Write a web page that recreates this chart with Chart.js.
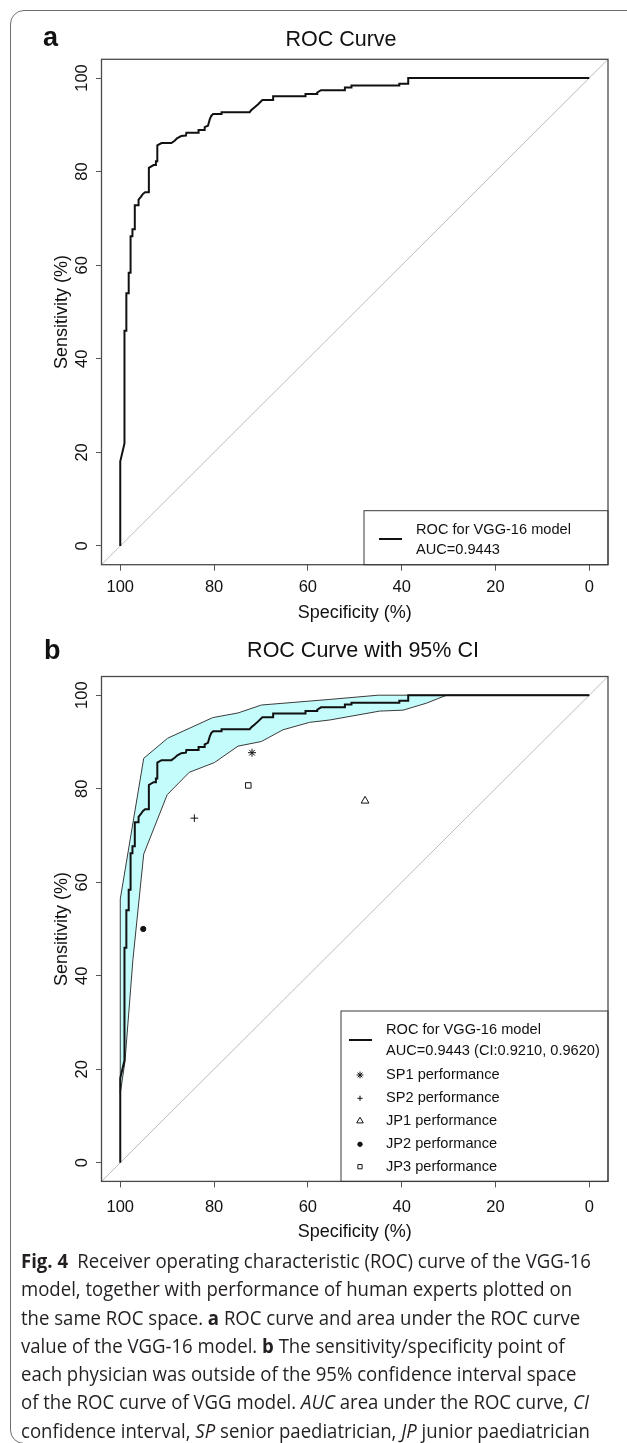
<!DOCTYPE html>
<html lang="en">
<head>
<meta charset="UTF-8">
<title>Fig. 4 - ROC curves</title>
<script src="https://cdn.jsdelivr.net/npm/chart.js"></script>
<style>
  html, body { margin: 0; padding: 0; background: #fff; }
  body { position: relative; width: 627px; height: 1443px; overflow: hidden; font-family: "Liberation Sans", Arial, sans-serif; color: #111; }
  .frame { position: absolute; left: 10px; top: 10px; width: 700px; height: 1434px; border: 1.3px solid #6e6e6e; border-radius: 14px; box-sizing: border-box; }
  canvas { position: absolute; left: 0; }
  #chartA { top: 0; }
  #chartB { top: 632px; }
  .letter { position: absolute; font-weight: bold; font-size: 27px; line-height: 1; }
  .title { position: absolute; font-size: 21.5px; line-height: 1; white-space: nowrap; transform: translateX(-50%); }
  .caption { position: absolute; left: 21px; top: 1247px; font-family: "Open Sans", "Noto Sans", sans-serif; font-size: 19.5px; color: #231f20; transform-origin: 0 0; }
  .caption .ln { height: 28.3px; line-height: 28.3px; white-space: nowrap; }
  .caption b { font-weight: 700; }
</style>
</head>
<body>
<div class="frame"></div>

<canvas id="chartA" width="627" height="632"></canvas>
<canvas id="chartB" width="627" height="620"></canvas>

<div class="letter" style="left:43px; top:24px;">a</div>
<div class="title" style="left:341px; top:29px;">ROC Curve</div>
<div class="letter" style="left:44px; top:637px;">b</div>
<div class="title" style="left:363px; top:640px;">ROC Curve with 95% CI</div>

<div class="caption" id="caption">
  <div class="ln"><span><b>Fig. 4</b>&ensp;Receiver operating characteristic (ROC) curve of the VGG-16</span></div>
  <div class="ln"><span>model, together with performance of human experts plotted on</span></div>
  <div class="ln"><span>the same ROC space. <b>a</b> ROC curve and area under the ROC curve</span></div>
  <div class="ln"><span>value of the VGG-16 model. <b>b</b> The sensitivity/specificity point of</span></div>
  <div class="ln"><span>each physician was outside of the 95% confidence interval space</span></div>
  <div class="ln"><span>of the ROC curve of VGG model. <i>AUC</i> area under the ROC curve, <i>CI</i></span></div>
  <div class="ln"><span>confidence interval, <i>SP</i> senior paediatrician, <i>JP</i> junior paediatrician</span></div>
</div>

<script>
// values (specificity %, sensitivity %)
const xTickValues = [100, 80, 60, 40, 20, 0];
const yTickValues = [0, 20, 40, 60, 80, 100];

const rocSpec = [100, 100, 99.1, 99.1, 98.7, 98.7, 98.2, 98.2, 97.8, 97.8, 97.4, 97.4, 96.9, 96.9, 96.1, 96.1,
  95.6, 95.2, 94.7, 93.9, 93.9, 92.9, 92.4, 92.4, 92.1, 92.1, 91.2, 89.1, 88.4, 87.9, 87.0, 86.0, 85.9, 83.3,
  83.3, 82.0, 82.0, 81.3, 80.9, 80.6, 80.2, 78.4, 78.4, 72.4, 72.1, 71.4, 70.6, 69.7, 67.4, 67.4, 60.5, 60.5,
  58.0, 58.0, 57.2, 52.1, 52.1, 50.7, 50.7, 40.5, 40.5, 38.6, 38.6, 0];
const rocSens = [0, 18.1, 21.9, 46.0, 46.0, 54.0, 54.0, 58.4, 58.4, 66.2, 66.2, 67.7, 67.7, 72.8, 72.8, 74.0,
  74.6, 75.2, 75.6, 75.6, 80.8, 81.4, 81.4, 82.2, 82.2, 85.6, 86.1, 86.1, 86.6, 87.1, 87.6, 87.7, 88.3, 88.3,
  88.9, 88.9, 89.5, 89.8, 91.2, 91.9, 92.3, 92.3, 92.7, 92.7, 93.1, 93.7, 94.4, 95.3, 95.3, 96.1, 96.1, 96.6,
  96.6, 96.9, 97.4, 97.4, 98.0, 98.0, 98.4, 98.4, 98.8, 98.8, 100, 100];

const ciUpperSpec = [100, 100, 95.0, 89.9, 80.3, 74.9, 69.9, 55.3, 45.0, 0];
const ciUpperSens = [14.8, 56.4, 86.5, 90.8, 95.2, 96.2, 97.9, 99.1, 100, 100];
const ciLowerSpec = [100, 99.0, 97.3, 95.0, 90.0, 85.3, 79.9, 74.9, 69.9, 65.3, 59.6, 55.3, 44.7, 39.7, 34.7, 30.4, 0];
const ciLowerSens = [14.8, 21.6, 43.4, 66.0, 78.7, 83.5, 85.6, 89.1, 90.1, 92.6, 94.2, 94.7, 96.6, 96.8, 98.3, 100, 100];

const diagSpec = [104, -4];
const diagSens = [-4, 104];

const experts = ['SP1', 'SP2', 'JP1', 'JP2', 'JP3'];
const expertSpec = [71.9, 84.2, 47.8, 95.1, 72.7];
const expertSens = [87.7, 73.7, 77.4, 50.0, 80.7];
const expertMarks = ['star', 'cross', 'triangle', 'circle', 'rect'];

const rocLabel = 'ROC for VGG-16 model';
const aucLabelA = 'AUC=0.9443';
const aucLabelB = 'AUC=0.9443 (CI:0.9210, 0.9620)';

const FONT = '"Liberation Sans", Arial, Helvetica, sans-serif';
const INK = '#111';

function pts(xs, ys) { return xs.map((x, i) => ({ x: x, y: ys[i] })); }

// R style box round the plot region
const plotBox = {
  id: 'plotBox',
  afterDatasetsDraw(chart) {
    const { ctx, chartArea: a } = chart;
    ctx.save();
    ctx.strokeStyle = '#4a4a4a';
    ctx.lineWidth = 1.3;
    ctx.strokeRect(a.left, a.top, a.right - a.left, a.bottom - a.top);
    ctx.restore();
  }
};

function drawMark(ctx, style, r, x, y) {
  if (Chart.helpers && Chart.helpers.drawPoint) {
    Chart.helpers.drawPoint(ctx, { pointStyle: style, radius: r, borderWidth: 1, rotation: 0 }, x, y);
  }
}

// legend drawn in the bottom right corner of the plot, like R's legend()
const boxLegend = {
  id: 'boxLegend',
  afterDraw(chart, args, o) {
    if (!o.rows) return;
    const { ctx, chartArea: a } = chart;
    const left = a.right - o.width, top = a.bottom - o.height;
    ctx.save();
    ctx.strokeStyle = '#3a3a3a';
    ctx.lineWidth = 1;
    ctx.strokeRect(left, top, o.width, o.height);
    ctx.font = '14.6px ' + FONT;
    ctx.textBaseline = 'middle';
    ctx.textAlign = 'left';
    o.rows.forEach(r => {
      const ds = chart.data.datasets[r.dataset];
      if (r.kind === 'line') {
        ctx.strokeStyle = ds.borderColor;
        ctx.lineWidth = ds.borderWidth;
        ctx.beginPath();
        ctx.moveTo(left + o.lineX[0], top + r.y);
        ctx.lineTo(left + o.lineX[1], top + r.y);
        ctx.stroke();
      } else {
        ctx.strokeStyle = ds.pointBorderColor;
        ctx.fillStyle = ds.pointBackgroundColor;
        ctx.lineWidth = 1;
        drawMark(ctx, ds.pointStyle, r.r, left + o.symX, top + r.y);
      }
      ctx.fillStyle = INK;
      r.texts.forEach((t, i) => ctx.fillText(t, left + o.textX, top + r.ty[i]));
    });
    ctx.restore();
  }
};

function scales(s) {
  return {
    x: {
      type: 'linear', reverse: true, min: -4, max: 104,
      afterBuildTicks: sc => { sc.ticks = xTickValues.map(v => ({ value: v })); },
      afterFit: sc => { sc.height = s.xHeight; },
      grid: { display: true, drawOnChartArea: false, drawTicks: true, tickLength: 6, color: '#555', lineWidth: 1 },
      border: { display: false },
      ticks: { autoSkip: false, maxRotation: 0, padding: s.xTickPad, color: INK, font: { family: FONT, size: 16.5 } },
      title: { display: true, text: 'Specificity (%)', color: INK, font: { family: FONT, size: 18 }, padding: { top: 0, bottom: s.xTitlePad } }
    },
    y: {
      type: 'linear', min: -4, max: 104,
      afterBuildTicks: sc => { sc.ticks = yTickValues.map(v => ({ value: v })); },
      afterFit: sc => { sc.width = 101.5; },
      grid: { display: true, drawOnChartArea: false, drawTicks: true, tickLength: 5.5, color: '#555', lineWidth: 1 },
      border: { display: false },
      ticks: { autoSkip: false, minRotation: 90, maxRotation: 90, crossAlign: 'center', padding: 0, color: INK, font: { family: FONT, size: 16.5 } },
      title: { display: true, text: 'Sensitivity (%)', color: INK, font: { family: FONT, size: 18 }, padding: { top: 51, bottom: 0 } }
    }
  };
}

const rocDataset = {
  label: rocLabel, data: pts(rocSpec, rocSens),
  borderColor: '#111', borderWidth: 2, pointRadius: 0, tension: 0, fill: false
};
const diagDataset = {
  label: 'diagonal', data: pts(diagSpec, diagSens),
  borderColor: '#bdbdbd', borderWidth: 1, pointRadius: 0, fill: false
};

new Chart(document.getElementById('chartA'), {
  type: 'line',
  data: { datasets: [rocDataset, diagDataset] },
  options: {
    responsive: false, animation: false, events: [],
    layout: { padding: { top: 59.3, right: 19, left: 0, bottom: 0 } },
    scales: scales({ xHeight: 67.3, xTickPad: 7, xTitlePad: 8 }),
    plugins: {
      legend: { display: false }, tooltip: { enabled: false },
      boxLegend: {
        width: 244, height: 54, lineX: [15, 38], textX: 52,
        rows: [{ kind: 'line', dataset: 0, y: 28.3, texts: [rocLabel, aucLabelA], ty: [19.3, 39.3] }]
      }
    }
  },
  plugins: [plotBox, boxLegend]
});

const expertDatasets = experts.map((name, i) => ({
  label: name + ' performance',
  data: [{ x: expertSpec[i], y: expertSens[i] }],
  showLine: false,
  pointStyle: expertMarks[i],
  pointRadius: [4.0, 3.8, 4.5, 2.6, 3.9][i],
  pointBorderWidth: 1,
  pointBorderColor: '#111',
  pointBackgroundColor: expertMarks[i] === 'circle' ? '#111' : 'rgba(0,0,0,0)'
}));

const ciDataset = {
  label: '95% CI',
  data: pts(ciUpperSpec.concat(ciLowerSpec.slice().reverse()), ciUpperSens.concat(ciLowerSens.slice().reverse())),
  borderColor: '#3a3a3a', borderWidth: 1, backgroundColor: '#c4fbfb', pointRadius: 0, tension: 0, fill: 'shape'
};

new Chart(document.getElementById('chartB'), {
  type: 'line',
  data: { datasets: expertDatasets.concat([Object.assign({}, rocDataset), ciDataset, Object.assign({}, diagDataset)]) },
  options: {
    responsive: false, animation: false, events: [],
    layout: { padding: { top: 44.5, right: 19, left: 0, bottom: 0 } },
    scales: scales({ xHeight: 70.6, xTickPad: 10, xTitlePad: 9 }),
    plugins: {
      legend: { display: false }, tooltip: { enabled: false },
      boxLegend: {
        width: 267, height: 170.4, lineX: [8, 31], textX: 45, symX: 19,
        rows: [
          { kind: 'line', dataset: 5, y: 29, texts: [rocLabel, aucLabelB], ty: [19, 39.7] },
          { kind: 'point', dataset: 0, r: 3.4, y: 64, texts: [experts[0] + ' performance'], ty: [64] },
          { kind: 'point', dataset: 1, r: 2.6, y: 87.3, texts: [experts[1] + ' performance'], ty: [87.3] },
          { kind: 'point', dataset: 2, r: 3.8, y: 110, texts: [experts[2] + ' performance'], ty: [110] },
          { kind: 'point', dataset: 3, r: 2.2, y: 133.3, texts: [experts[3] + ' performance'], ty: [133.3] },
          { kind: 'point', dataset: 4, r: 3.0, y: 155.7, texts: [experts[4] + ' performance'], ty: [155.7] }
        ]
      }
    }
  },
  plugins: [plotBox, boxLegend]
});

// squeeze the caption so the first line spans the same width as in the figure
const cap = document.getElementById('caption');
const firstLine = cap.querySelector('.ln span');
const k = 570 / firstLine.getBoundingClientRect().width;
cap.style.transform = 'scaleX(' + k.toFixed(4) + ')';
</script>
</body>
</html>
